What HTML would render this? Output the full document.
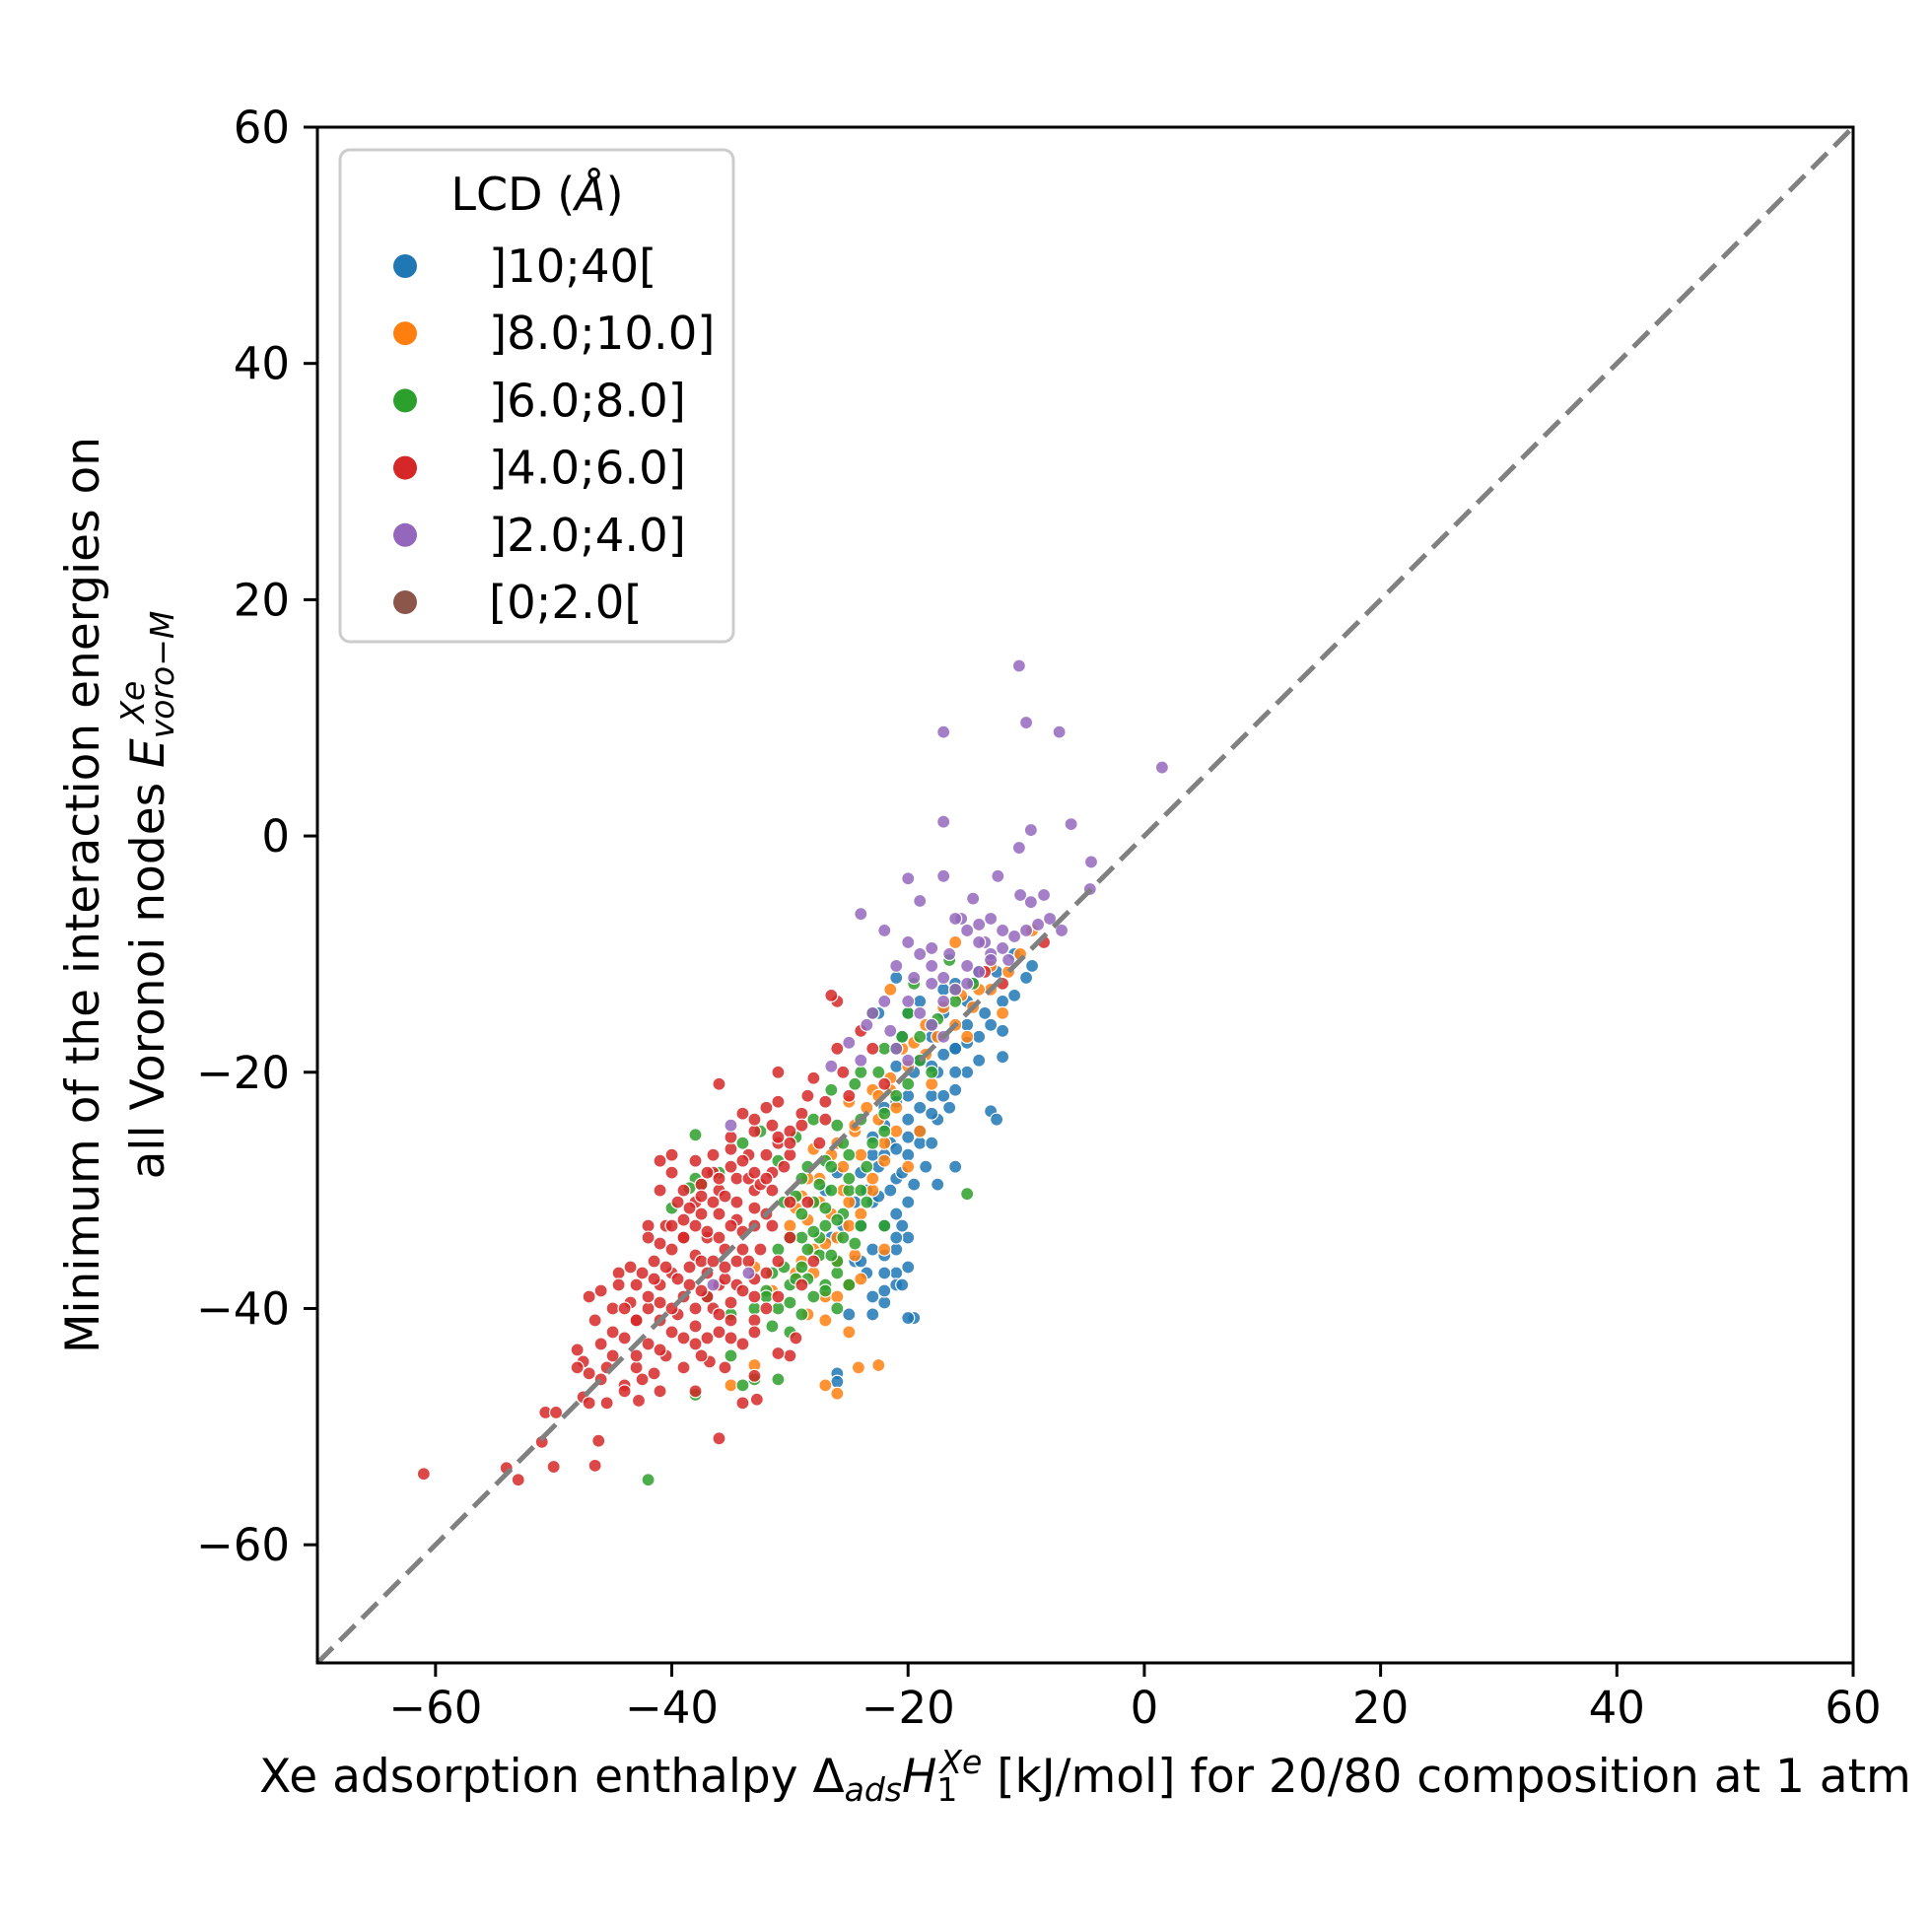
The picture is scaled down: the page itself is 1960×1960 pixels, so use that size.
<!DOCTYPE html>
<html><head><meta charset="utf-8"><style>
html,body{margin:0;padding:0;background:#fff;}
svg{display:block;font-family:"DejaVu Sans","Liberation Sans",sans-serif;}
</style></head><body>
<svg id="chart" width="1960" height="1960" viewBox="0 0 1960 1960" xmlns="http://www.w3.org/2000/svg">
<g id="points"></g>
<line id="diag" stroke="#808080" stroke-width="5" stroke-dasharray="22 10"/>
<rect x="322" y="129" width="1558" height="1558" fill="none" stroke="#000" stroke-width="3"/>
<g id="xticks"></g>
<g id="yticks"></g>
<text x="1101" y="1818" font-size="47" text-anchor="middle">Xe adsorption enthalpy Δ<tspan font-style="italic" font-size="33" dy="9">ads</tspan><tspan font-style="italic" dy="-9">H</tspan><tspan font-size="33" dy="9">1</tspan><tspan font-style="italic" font-size="33" dx="-18" dy="-28">Xe</tspan><tspan dy="19"> [kJ/mol] for 20/80 composition at 1 atm</tspan></text>
<g transform="translate(100,908) rotate(-90)">
<text x="0" y="0" font-size="47" text-anchor="middle">Minimum of the interaction energies on</text>
<text x="0" y="66" font-size="47" text-anchor="middle">all Voronoi nodes <tspan font-style="italic">E</tspan><tspan font-style="italic" font-size="33" dy="10">voro−M</tspan><tspan font-style="italic" font-size="33" dx="-114" dy="-30">Xe</tspan><tspan dx="84" dy="20"> </tspan></text>
</g>
<g>
<rect x="345" y="152" width="399" height="499" rx="10" fill="#fff" fill-opacity="0.8" stroke="#ccc" stroke-width="3"/>
<text x="545" y="213" font-size="46" text-anchor="middle">LCD (<tspan font-style="italic">Å</tspan>)</text>
<g id="legend-items"></g>
</g>
</svg>
<script>
const xTicks=[-60,-40,-20,0,20,40,60];
const yTicks=[-60,-40,-20,0,20,40,60];
const legendLabels=[']10;40[',']8.0;10.0]',']6.0;8.0]',']4.0;6.0]',']2.0;4.0]','[0;2.0['];
const legendColors=['#1f77b4','#ff7f0e','#2ca02c','#d62728','#9467bd','#8c564b'];
const blueX=[-19.5,-20,-26,-26,-25,-23,-22,-21,-20,-22,-23.5,-24.5,-21,-20,-22,-24,-25.5,-21,-20,-23,-19.5,-21,-22.5,-24,-18.5,-20,-21.5,-23,-19,-17.5,-20,-22,-16.5,-13,-12.5,-18,-16,-15,-17.5,-19.5,-21,-14,-12,-16,-18,-20.5,-15,-17,-13.5,-12,-11,-14.5,-12.5,-10,-9.5,-11,-21,-20,-22.5,-19,-25,-26.5,-27,-26,-16,-17.5,
 -24,-23,-22,-21,-20.5,-24.5,-23.5,-22.5,-21.5,-20.5,-23,-22,-21,-20,-19,-18,-22,-21,-20,-19,-18,-17,-16,-19,-18,-17,-16,-15,-14,-13,-17,-16,-15,-14,-13,-12,-21,-20.5,-22,-23];
const blueY=[-40.8,-40.8,-45.5,-46.2,-40.5,-40.5,-39.5,-37,-36.5,-37,-37,-36,-35,-34,-33,-33,-33,-32,-31,-31,-29.5,-29,-28,-28.5,-28,-27,-26,-25.5,-25,-24,-24,-23,-23,-23.3,-24,-22,-21.5,-20,-20,-20,-19.5,-19,-18.7,-18,-17,-17,-16,-15,-15,-14,-13.5,-12.5,-11.5,-12,-11,-10,-12,-15,-15,-14,-38,-34,-30,-28.5,-28,-29.5,
 -36,-35,-35.5,-34,-33,-31,-30,-30.5,-30,-28.5,-27,-27,-26.5,-25.5,-26,-26,-24.5,-22.5,-22,-23,-23.5,-22,-20,-19,-19.5,-18.5,-18,-17.5,-17,-16,-13,-12.5,-14,-11.5,-10.5,-16.5,-38,-38,-38.5,-39];
const orangeX=[-27,-26,-24.2,-22.5,-35,-33,-25,-28.5,-27,-29.5,-28,-26,-24.5,-30,-28.5,-26.5,-25,-23,-29,-27.5,-25.5,-24,-22,-28,-26,-24.5,-22.5,-21,-25,-23,-21.5,-20,-18.5,-17.5,-16,-14.5,-13,-11.5,-10.5,-9.5,-21.5,-16,-22,-20,-33,-31.5,-18,-15,-12,-19,
 -30,-29,-28,-27,-26,-25,-24,-23,-22,-21,-29.5,-28.5,-27.5,-26.5,-25.5,-24.5,-23.5,-22.5,-21.5,-20.5,-19.5,-18.5,-17,-15.5,-14,-13,-27,-26,-25,-24];
const orangeY=[-46.5,-47.2,-45,-44.8,-46.5,-44.8,-42,-40.5,-39,-37,-35,-36,-35.5,-33,-32.5,-32,-31,-30,-30.5,-29,-28,-27,-27.5,-26.5,-26,-25,-24,-23,-22.5,-21.5,-20.5,-19.5,-18.5,-17,-16,-14.5,-13,-11.5,-10,-8,-13,-9,-35,-28,-36.5,-38.5,-21,-17,-15,-25,
 -34,-36,-37,-34.5,-34,-33,-32,-29,-26,-25,-31.5,-29,-31,-27,-30,-24.5,-23,-22,-21.5,-18,-17.5,-16,-14.5,-13.5,-13,-11,-41,-39,-38,-37.5];
const greenX=[-42,-38,-34,-33,-31,-35,-30,-31.5,-33,-32,-30,-28.5,-27,-29,-27.5,-26,-29,-27,-25.5,-24,-28,-26.5,-25,-23.5,-29,-27,-25,-23.5,-29.5,-28,-26,-24,-22,-26.5,-24.5,-22.5,-21,-19,-17.5,-16,-14.5,-15,-38,-37.5,-38.5,-36,-40,-38,-34,-32.5,-31,-37,-35,-26,-22,-20.5,-18,-23,-19.5,-16.5,
 -32,-31,-30,-29,-28,-27,-26,-25,-31.5,-30.5,-29.5,-28.5,-27.5,-26.5,-25.5,-24.5,-31,-30,-29,-28,-27,-26,-25,-24,-30.5,-29.5,-28.5,-27.5,-26.5,-25.5,-23,-22,-21,-20,-19,-24,-22,-20,-18,-16];
const greenY=[-54.5,-47.3,-46.5,-46,-46,-44,-42,-41.5,-40,-38.5,-38,-37.5,-38,-36.5,-35.5,-37,-34,-33,-34,-33,-31,-30,-30,-31,-29,-27.5,-27,-28,-25.5,-24,-24.5,-24,-23.5,-21.5,-21,-20,-18,-17,-15.5,-14,-12.5,-30.3,-29,-29.5,-29.8,-28.5,-31.5,-25.3,-26,-25,-27.5,-39,-40.5,-40,-33,-17,-20,-15,-12.5,-10.5,
 -39,-40,-39.5,-40.5,-39,-38.5,-36,-38,-37,-36.5,-37.5,-35,-34,-35.5,-32,-34.5,-35,-34,-32,-33.5,-31.5,-32.5,-29,-30,-31,-30.5,-28,-29.5,-28,-26,-26,-25,-22,-21,-19,-20,-18,-15,-16,-13];
const redX=[-61,-54,-53,-50,-46.5,-51,-46.2,-36,-50.7,-49.8,-47.5,-47,-42.8,-41,-44,-46,-38,-34,-32.8,-33,-35.5,-36.8,-39,-43,-45.5,-47.5,-48,-46,-44,-42,-40,-38,-36,-34,-30,-31,-46.5,-45,-43.5,-42,-41,-39.5,-38,-36.5,-35,-33,-47,-46,-44.5,-43,-41,-40,-38.5,-37,-36,-34.5,-33,-32,-41.5,-40,-38,-37,-35.5,-34,-32.5,-31,-42,-40.5,-39,-37.5,-36,-34.5,-33,-31.5,-30,-41,-39,-37.5,-36,-34.5,-33,-31.5,-30,-40,-38,-36.5,-35,-33.5,-32,-30.5,-33,-31.5,-30,-29,-31,-28.5,-27,-28,-26,-24,-26,-26.5,-31,-36,-37.5,-39,-35.5,-43,-45,-41.5,-40.5,-37.5,-29.5,-32,-28,-28.5,-27.5,-25.5,-23,-22,-13.5,-8.5,-12,-41,-40,-38,-36.5,
 -44,-43,-42,-41,-40,-39,-38,-37,-36,-35,-34,-33,-44.5,-43.5,-42.5,-41.5,-40.5,-39.5,-38.5,-37.5,-36.5,-35.5,-34.5,-33.5,-42,-41,-40,-39,-38,-37,-36,-35,-34,-33,-32,-39.5,-38.5,-37.5,-36.5,-35.5,-34.5,-33.5,-32.5,-31.5,-37,-36,-35,-34,-33,-32,-31,-30,-35,-34,-33,-32,-31,-30,-29,-48,-47,-45,-43,-41,-39,-37,-35,-33,-31,-29,-27,-25,-45.5,-44,-42.5];
const redY=[-54,-53.5,-54.5,-53.4,-53.3,-51.3,-51.2,-51,-48.8,-48.8,-47.5,-48,-47.8,-47,-46.5,-46,-47,-48,-47.7,-45.7,-45,-44.5,-45,-45,-45,-44.5,-43.5,-43,-42.5,-43,-42,-43,-42,-43,-44,-43.8,-41,-40,-39.5,-40,-41,-40.5,-40,-40,-41,-41,-39,-38.5,-37,-38,-38,-37,-38,-37,-38,-38,-39,-37,-36,-35,-35.5,-34,-35,-35,-35,-36,-33,-33,-32.5,-32,-32,-32.5,-33,-33,-34,-30,-30,-29.5,-30,-29,-30,-30,-31,-27,-27.5,-27,-26.5,-27,-27,-28,-25,-24.5,-25,-23.5,-22.5,-22,-22.5,-20.5,-18,-16.5,-14,-13.5,-20,-21,-36,-34,-37.5,-41,-42,-45.5,-44,-44,-42.5,-40,-36,-31,-26,-20,-18,-21,-11.5,-9,-12.5,-27.5,-28.5,-31,-28.5,
 -40,-41,-39,-39.5,-40,-39,-41.5,-39,-40.5,-39.5,-38.5,-37.5,-38,-36.5,-37,-37.5,-36.5,-37.5,-36.5,-38.5,-36,-36.5,-36,-36,-34,-34.5,-33,-34,-33,-33.5,-34,-33,-33.5,-31.5,-32,-31,-31.5,-30.5,-31,-30.5,-31,-29,-29.5,-28.5,-28.5,-29,-28,-27.5,-28.5,-29,-26,-27,-25.5,-23.5,-24,-23,-25.5,-26,-24.5,-45,-45.5,-44,-44,-43.5,-42.5,-42.5,-42.5,-42,-39,-38,-24,-22,-48,-47,-46];
const purpleX=[-10.6,-10,-17,-7.2,1.5,-17,-9.6,-6.2,-10.6,-4.5,-20,-17,-12.4,-10.5,-9.6,-8.5,-4.6,-24,-14.5,-19,-22,-15.5,-14,-13,-12,-9,-8,-7,-20,-19,-18,-16.5,-15,-13.5,-21,-19.5,-18,-17,-22,-23.5,-21.5,-25,-24,-26.5,-35,-36.5,-33.5,-11.5,
 -16,-15,-14,-13,-12,-11,-10,-18,-17,-16,-15,-14,-13,-20,-19,-18,-17,-21,-20,-23];
const purpleY=[14.4,9.6,8.8,8.8,5.8,1.2,0.5,1,-1,-2.2,-3.6,-3.4,-3.4,-5,-5.6,-5,-4.5,-6.6,-5.3,-5.5,-8,-7,-7.5,-7,-8,-7.5,-7,-8,-9,-10,-9.5,-10,-11,-9,-11,-12,-12.5,-14,-14,-16,-16.5,-17.5,-19,-19.5,-24.5,-38,-37,-10.5,
 -7,-8,-9,-10,-9.5,-8.5,-8,-11,-12,-13,-12.5,-11.5,-10.5,-14,-15,-16,-17,-18,-19,-15];

const L=322,R=1880,T=129,B=1687,MIN=-70,MAX=60;
const sx=v=>L+(v-MIN)/(MAX-MIN)*(R-L);
const sy=v=>B-(v-MIN)/(MAX-MIN)*(B-T);
const NS='http://www.w3.org/2000/svg';
function mk(tag,attrs,parent){const e=document.createElementNS(NS,tag);for(const k in attrs)e.setAttribute(k,attrs[k]);parent.appendChild(e);return e;}

const pts=document.getElementById('points');
const series=[[blueX,blueY,0,'blue'],[orangeX,orangeY,1,'orange'],[greenX,greenY,2,'green'],[redX,redY,3,'red'],[purpleX,purpleY,4,'purple']];
series.forEach(([xs,ys,ci,nm])=>{
  xs.forEach((x,i)=>{
    const c=mk('circle',{cx:sx(x),cy:sy(ys[i]),r:6.5,fill:legendColors[ci],'fill-opacity':0.85,stroke:'#fff','stroke-width':1.2},pts);
    
    
  });
});

const d=document.getElementById('diag');
d.setAttribute('x1',sx(MIN));d.setAttribute('y1',sy(MIN));
d.setAttribute('x2',sx(MAX));d.setAttribute('y2',sy(MAX));

const xg=document.getElementById('xticks');
xTicks.forEach(v=>{
  mk('line',{x1:sx(v),x2:sx(v),y1:B,y2:B+14,stroke:'#000','stroke-width':3},xg);
  const t=mk('text',{x:sx(v),y:1748,'font-size':45,'text-anchor':'middle'},xg);
  t.textContent=String(v).replace('-','−');
  
  
});
const yg=document.getElementById('yticks');
yTicks.forEach(v=>{
  mk('line',{x1:L-14,x2:L,y1:sy(v),y2:sy(v),stroke:'#000','stroke-width':3},yg);
  const t=mk('text',{x:294,y:sy(v)+16,'font-size':45,'text-anchor':'end'},yg);
  t.textContent=String(v).replace('-','−');
  
  
});

const lg=document.getElementById('legend-items');
legendLabels.forEach((lab,i)=>{
  const y=270+i*68.2;
  const c=mk('circle',{cx:411,cy:y,r:12,fill:legendColors[i]},lg);
  
  
  const t=mk('text',{x:496,y:y+16,'font-size':46.5},lg);
  t.textContent=lab;
  
  
});
</script>
</body></html>
